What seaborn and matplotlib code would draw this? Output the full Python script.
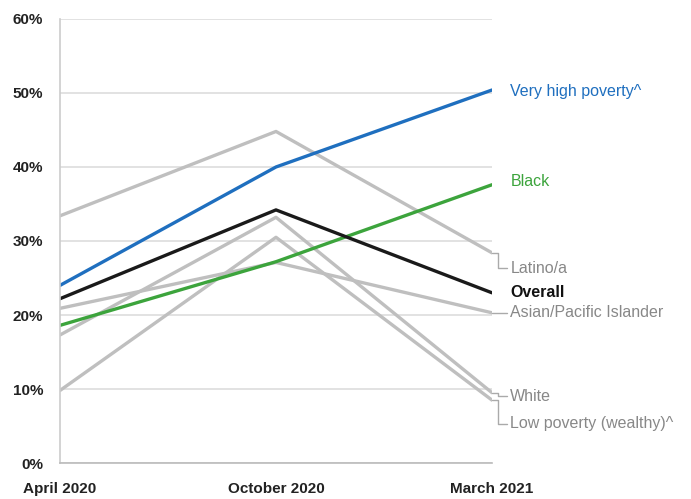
import numpy as np
import matplotlib
matplotlib.use('Agg')
import matplotlib.pyplot as plt
import pandas as pd
import seaborn as sns

# data (share in %)
periods = ['April 2020', 'October 2020', 'March 2021']
very_high_poverty = [24.0, 40.0, 50.4]
black = [18.6, 27.2, 37.6]
overall = [22.2, 34.2, 23.0]
latino = [33.4, 44.8, 28.4]
asian_pi = [20.9, 27.1, 20.3]
white = [17.3, 33.2, 9.5]
low_poverty = [9.8, 30.5, 8.5]

groups = ['Latino/a', 'Asian/Pacific Islander', 'White', 'Low poverty (wealthy)^',
          'Black', 'Overall', 'Very high poverty^']
values = [latino, asian_pi, white, low_poverty, black, overall, very_high_poverty]

rows = []
for g, vals in zip(groups, values):
    for i, v in enumerate(vals):
        rows.append({'group': g, 'x': i, 'value': v})
df = pd.DataFrame(rows)

grey = '#bfbfbf'
palette = {'Latino/a': grey, 'Asian/Pacific Islander': grey, 'White': grey,
           'Low poverty (wealthy)^': grey, 'Black': '#3ca43c',
           'Overall': '#1a1a1a', 'Very high poverty^': '#1f6fbf'}

sns.set_style('white')
plt.rcParams['font.family'] = ['Liberation Sans', 'DejaVu Sans']

fig = plt.figure(figsize=(6.91, 4.99), dpi=100)
ax = fig.add_axes([0.0868, 0.0721, 0.6252, 0.8899])

sns.lineplot(data=df, x='x', y='value', hue='group', hue_order=groups,
             palette=palette, linewidth=2.4, legend=False, ax=ax)

ax.set_xlim(0, 2)
ax.set_ylim(0, 60)
ax.set_yticks(range(0, 61, 10))
ax.set_yticklabels([f'{t}%' for t in range(0, 61, 10)], fontsize=11,
                   fontweight='bold', color='#222222')
ax.set_xticks([0, 1, 2])
ax.set_xticklabels(periods, fontsize=11, fontweight='bold', color='#222222')
ax.set_xlabel('')
ax.set_ylabel('')
ax.yaxis.grid(True, color='#dddddd', linewidth=1.2)
ax.set_axisbelow(True)
for s in ['top', 'right']:
    ax.spines[s].set_visible(False)
ax.spines['left'].set_color('#cccccc')
ax.spines['bottom'].set_color('#bbbbbb')
ax.spines['left'].set_linewidth(1.2)
ax.spines['bottom'].set_linewidth(1.2)
ax.tick_params(axis='x', direction='in', length=6, color='#bbbbbb', pad=14)
ax.tick_params(axis='y', length=0, pad=12)
ax.get_xticklines()[0].set_visible(False)

# end labels, some with small leader lines
labels = [
    ('Very high poverty^', very_high_poverty[-1], 50.2, '#1f6fbf', 'normal', False),
    ('Black', black[-1], 38.0, '#3ca43c', 'normal', False),
    ('Latino/a', latino[-1], 26.3, '#888888', 'normal', True),
    ('Overall', overall[-1], 23.0, '#111111', 'bold', False),
    ('Asian/Pacific Islander', asian_pi[-1], 20.3, '#888888', 'normal', True),
    ('White', white[-1], 9.0, '#888888', 'normal', True),
    ('Low poverty (wealthy)^', low_poverty[-1], 5.3, '#888888', 'normal', True),
]
for name, yv, ylab, col, w, lead in labels:
    if lead:
        ax.plot([2.0, 2.03, 2.03, 2.07], [yv, yv, ylab, ylab], color='#aaaaaa',
                linewidth=1, clip_on=False)
    ax.text(2.085, ylab, name, color=col, fontsize=11.5, fontweight=w,
            va='center', ha='left', clip_on=False)

fig.savefig('out.png', dpi=100)
